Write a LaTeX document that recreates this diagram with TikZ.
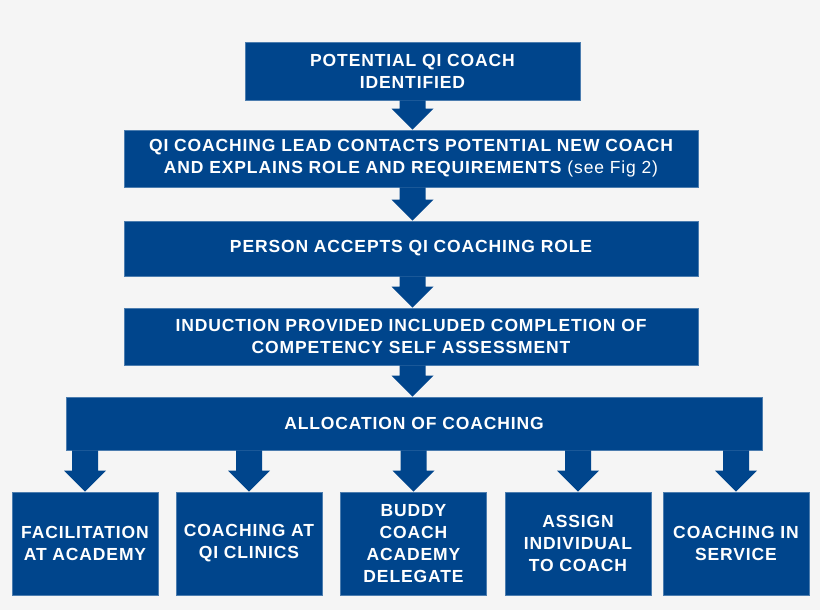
\documentclass[tikz,border=0pt]{standalone}
\usepackage{fontspec}
\setmainfont{Liberation Sans}[LetterSpace=5]
\usetikzlibrary{calc}
\definecolor{boxblue}{RGB}{0,69,140}
\definecolor{backgray}{RGB}{245,245,245}
\tikzset{box/.style={fill=boxblue, draw=boxblue!70!white, line width=0.6pt, text=white, align=center, inner sep=2pt, font=\fontsize{17.5}{22}\selectfont\bfseries}}
\tikzset{leaf/.style={box, minimum width=146pt, minimum height=103pt}}
\newcommand{\blockarrow}[2]{%
  \fill[boxblue] let \p1=(#1), \p2=(#2) in
    (\x1-13pt,\y1) -- (\x1+13pt,\y1) -- (\x1+13pt,\y2+21pt) -- (\x1+21pt,\y2+21pt)
    -- (\x2,\y2) -- (\x1-21pt,\y2+21pt) -- (\x1-13pt,\y2+21pt) -- cycle;}

\begin{document}
\begin{tikzpicture}[x=1pt,y=-1pt]
  \fill[backgray] (0,0) rectangle (820,610);
  \useasboundingbox (0,0) rectangle (820,610);
  \node[box,minimum width=335pt,minimum height=58pt] (ident) at (412.5,71) {POTENTIAL QI COACH\\IDENTIFIED};
  \node[box,minimum width=574pt,minimum height=57pt] (contact) at (411,158.5) {QI COACHING LEAD CONTACTS POTENTIAL NEW COACH\\AND EXPLAINS ROLE AND REQUIREMENTS {\mdseries(see Fig 2)}};
  \node[box,minimum width=574pt,minimum height=55pt] (accept) at (411,248.5) {PERSON ACCEPTS QI COACHING ROLE};
  \node[box,minimum width=574pt,minimum height=57pt] (induct) at (411,336.5) {INDUCTION PROVIDED INCLUDED COMPLETION OF\\COMPETENCY SELF ASSESSMENT};
  \node[box,minimum width=696pt,minimum height=53pt] (alloc) at (414,423.5) {ALLOCATION OF COACHING};

  \node[leaf] (facil) at (85,543.5) {FACILITATION\\AT ACADEMY};
  \node[leaf] (clinic) at (249,543.5) {COACHING AT\\QI CLINICS};
  \node[leaf] (buddy) at (413.5,543.5) {BUDDY\\COACH\\ACADEMY\\DELEGATE};
  \node[leaf] (assign) at (578,543.5) {ASSIGN\\INDIVIDUAL\\TO COACH};
  \node[leaf] (service) at (736,543.5) {COACHING IN\\SERVICE};

  \blockarrow{ident.south}{contact.north -| ident.south}
  \blockarrow{contact.south -| ident.south}{accept.north -| ident.south}
  \blockarrow{accept.south -| ident.south}{induct.north -| ident.south}
  \blockarrow{induct.south -| ident.south}{alloc.north -| ident.south}
  \foreach \leaf in {facil,clinic,buddy,assign,service}
    \blockarrow{alloc.south -| \leaf.north}{\leaf.north};
\end{tikzpicture}
\end{document}
